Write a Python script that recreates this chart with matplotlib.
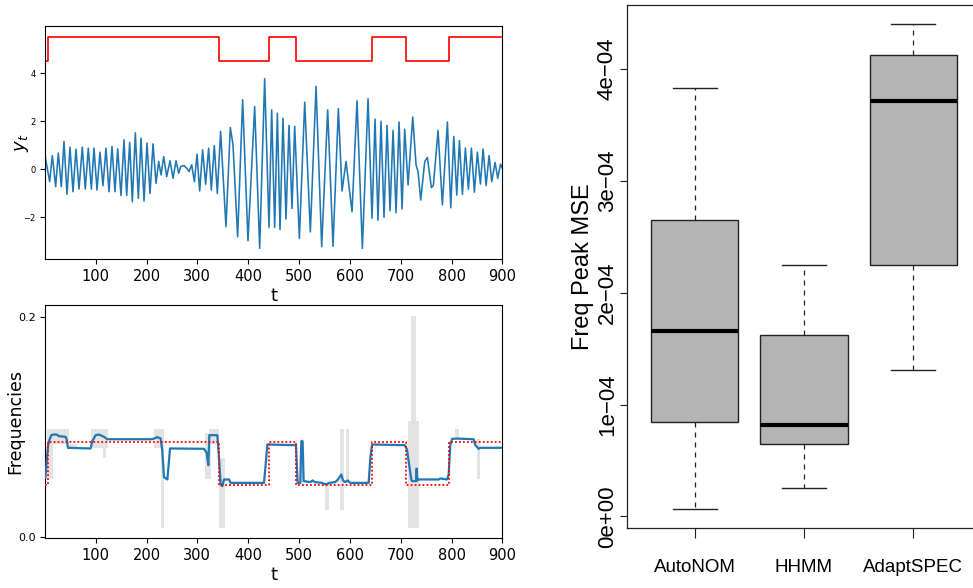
import matplotlib
matplotlib.use("Agg")
import matplotlib.pyplot as plt
from matplotlib import font_manager

# ---------------- data: top panel (simulated series y_t, read extrema) ----------------
sig_t = [1, 9.5, 14.7, 21.3, 26.5, 32.4, 37.7, 43.6, 49.5, 55.4, 61.3, 67.2, 73.7, 79.6,
         85.5, 91.5, 96.7, 102.6, 108.5, 114.4, 120.3, 126.2, 132.1, 138.0, 143.3, 149.8,
         155.7, 161.0, 166.9, 172.1, 178.0, 183.9, 189.2, 195.1, 201.0, 206.9, 212.8, 218.7,
         224.0, 228.6, 233.8, 239.7, 246.3, 252.2, 258.1, 263.3, 267.3, 273.8, 279.0, 283.7,
         288.9, 294.2, 299.4, 304.6,
         310.4, 316.3, 322.2, 327.5, 333.4, 339.3, 345.8, 356.3, 364.9, 370.1, 379.3, 389.1,
         399.6, 412.8, 422.6, 432.4, 441.0, 446.2, 452.1, 457.4, 462.6, 468.5, 474.4, 480.3,
         486.2, 491.5, 500.7, 511.2, 522.3, 533.5, 544.6, 556.4, 566.9, 577.4, 584.6, 592.5,
         604.3, 614.1, 624.6, 635.8, 643.6, 649.5, 655.4, 661.3, 667.2, 673.2, 679.1, 685.0,
         690.9, 696.8, 702.7, 707.9, 714.5, 723.7, 730.2, 734.2, 739.4, 747.3, 752.5, 760.4,
         764.3, 773.5, 782.0, 791.9, 798.5, 804.4, 810.3, 815.5, 821.4, 827.3, 833.2, 839.1,
         845.0, 850.9, 856.8, 862.1, 868.0, 873.9, 879.1, 885.7, 890.9, 896.2, 900]
sig_y = [0.49, -0.52, 0.57, -0.73, 0.67, -0.73, 1.16, -1.05, 0.92, -0.94, 0.84, -0.83, 0.92, -0.83,
         0.88, -0.83, 0.88, -0.87, 0.71, -0.69, 0.88, -0.94, 0.95, -0.94, 0.85, -1.10,
         1.23, -1.10, 1.12, -1.36, 1.52, -1.22, 1.30, -1.33, 1.09, -1.01, 1.06, -0.59,
         0.32, -0.24, 0.53, -0.31, 0.35, -0.38, 0.35, -0.17, 0.11, 0.15, 0.04, -0.10,
         0.18, -0.52, 0.63, -0.91,
         0.81, -0.63, 0.88, -0.87, 0.98, -1.01, 1.58, -2.40, 1.74, 1.02, -2.83, 2.90,
         -2.99, 2.62, -3.31, 3.78, -2.43, 2.48, -2.43, 2.34, -2.52, 2.13, -2.08, 1.83,
         -1.64, 1.79, -2.89, 2.80, -2.62, 3.46, -3.24, 2.48, -3.22, 2.53, -0.91, 0.32,
         -1.78, 2.86, -3.31, 2.94, -2.05, 2.09, -2.13, 2.00, -2.01, 1.83, -1.74, 1.62,
         -1.82, 1.97, -1.66, 1.67, -0.66, 2.18, 0.18, -0.10, -1.29, 0.32, 0.49, -0.77,
         -0.68, 1.62, -1.49, 1.97, -1.61, 1.37, -1.08, 1.19, -1.05, 0.88, -0.84, 0.88,
         -0.96, 0.71, -0.62, 0.84, -0.68, 0.57, -0.52, 0.28, -0.38, 0.21, 0.04]

# regime change points and states (0 = low, 1 = high)
change_t = [1, 7, 343, 440, 495, 643, 710, 795, 900]
states = [0, 1, 0, 1, 0, 1, 0, 1]
state_level_top = [4.54, 5.54]          # red indicator in top panel
true_freq = [0.0467, 0.0866]            # true peak frequency per state

# ---------------- data: bottom panel (estimated frequency + band) ----------------
est_t = [1, 6.2, 8.1, 12.7, 16.7, 23.2, 27.8, 40.9, 42.9, 45.5, 90.1, 93.4, 100, 106.5, 116.3,
         122.9, 211.4, 221.3, 227.8, 231.1, 234.4, 241, 244.2, 246.2, 313.1, 318.3, 321.6,
         323.6, 339.3, 342.6, 345.9, 349.2, 352.4, 362.3, 365.5, 431.1, 434.4, 437.7, 494,
         497.3, 502.5, 504.5, 507.1, 509.1, 522.2, 526.8, 530.7, 545.2, 553, 559.6, 571.4,
         576.7, 583.2, 586.5, 591.1, 595.7, 600.9, 637, 640.3, 643.5, 646.8, 707.8, 712.4,
         717, 720.9, 722.2, 730.1, 731.4, 732.7, 735.4, 774.7, 778, 791.1, 794.4, 797.7,
         800.9, 810.8, 843.6, 846.8, 853.4, 856.7, 900]
est_f = [0.0536, 0.0824, 0.0870, 0.0924, 0.0930, 0.0930, 0.0915, 0.0909, 0.0887, 0.0809, 0.0803,
         0.0870, 0.0924, 0.0930, 0.0909, 0.0887, 0.0887, 0.0906, 0.0894, 0.0779, 0.0542, 0.0521,
         0.0688, 0.0803, 0.0800, 0.0763, 0.0651, 0.0924, 0.0924, 0.0718, 0.0475, 0.0460, 0.0521,
         0.0521, 0.0490, 0.0490, 0.0657, 0.0839, 0.0833, 0.0490, 0.0490, 0.0869, 0.0869, 0.0506,
         0.0497, 0.0512, 0.0497, 0.0490, 0.0475, 0.0490, 0.0497, 0.0521, 0.0566, 0.0512, 0.0497,
         0.0512, 0.0490, 0.0490, 0.0718, 0.0833, 0.0839, 0.0833, 0.0794, 0.0642, 0.0521, 0.0506,
         0.0506, 0.0620, 0.0512, 0.0521, 0.0521, 0.0530, 0.0521, 0.0566, 0.0839, 0.0890, 0.0893,
         0.0887, 0.0833, 0.0800, 0.0809, 0.0809]

# credible band pieces: start, end, lower, upper
band_t0 = [3.5, 16.7, 47.5, 90.1, 115.0, 214.7, 227.8, 315.7, 322.9, 342.0, 503.2, 551.7,
           581.2, 592.4, 715.0, 720.5, 806.2, 850.1]
band_t1 = [16.7, 47.5, 63.9, 124.0, 119.6, 234.4, 234.4, 326.2, 342.6, 354.0, 508.4, 559.6,
           587.8, 597.6, 736.0, 730.0, 815.4, 856.7]
band_lo = [0.0521, 0.0845, 0.0818, 0.0809, 0.0718, 0.0809, 0.0082, 0.0521, 0.0845, 0.0082,
           0.0475, 0.0239, 0.0239, 0.0490, 0.0082, 0.0082, 0.0890, 0.0521]
band_hi = [0.0983, 0.0983, 0.0845, 0.0983, 0.0809, 0.0983, 0.0809, 0.0945, 0.0983, 0.0718,
           0.0885, 0.0490, 0.0983, 0.0983, 0.1050, 0.2012, 0.0983, 0.0885]

# ---------------- data: right panel (boxplots) ----------------
methods = ["AutoNOM", "HHMM", "AdaptSPEC"]
whisk_lo = [0.067e-4, 0.25e-4, 1.31e-4]
q1 = [0.84e-4, 0.65e-4, 2.25e-4]
median = [1.66e-4, 0.82e-4, 3.71e-4]
q3 = [2.65e-4, 1.62e-4, 4.12e-4]
whisk_hi = [3.83e-4, 2.25e-4, 4.40e-4]
ytick_vals = [0, 1e-4, 2e-4, 3e-4, 4e-4]
ytick_labels = ["0e+00", "1e\u221204", "2e\u221204", "3e\u221204", "4e\u221204"]
xtick_vals = [100, 200, 300, 400, 500, 600, 700, 800, 900]

# ---------------- figure ----------------
fig = plt.figure(figsize=(9.73, 5.88), dpi=100)
fig.patch.set_facecolor("white")

blue = "#1f77b4"

# top panel
ax1 = fig.add_axes([0.0466, 0.5595, 0.4697, 0.3963])
ax1.plot(sig_t, sig_y, color=blue, lw=1.15)
top_levels = [state_level_top[s] for s in states] + [state_level_top[states[-1]]]
ax1.step(change_t, top_levels, where="post", color="red", lw=1.2)
ax1.set_xlim(1, 900)
ax1.set_xticks(xtick_vals)
ax1.set_yticks([-2, 0, 2, 4])
ax1.tick_params(axis="x", labelsize=10.5)
ax1.tick_params(axis="y", labelsize=6)
ax1.set_xlabel("t", fontsize=13, labelpad=2)
ax1.set_ylabel("$y_t$", fontsize=13, va="center")
ax1.yaxis.set_label_coords(-0.051, 0.5)

# bottom panel
ax2 = fig.add_axes([0.0466, 0.0845, 0.4697, 0.3968])
for a, b, lo, hi in zip(band_t0, band_t1, band_lo, band_hi):
    ax2.fill_between([a, b], [lo, lo], [hi, hi], color="#e3e3e3", lw=0, zorder=1)
ax2.plot(est_t, est_f, color=blue, lw=1.6, zorder=3)
freq_levels = [true_freq[s] for s in states] + [true_freq[states[-1]]]
ax2.step(change_t, freq_levels, where="post", color="red", lw=1.3,
         linestyle=(0, (1, 1.2)), zorder=4)
ax2.set_xlim(1, 900)
ax2.set_xticks(xtick_vals)
ax2.set_yticks([0.0, 0.2])
ax2.set_yticklabels(["0.0", "0.2"])
ax2.tick_params(axis="x", labelsize=10.5)
ax2.tick_params(axis="y", labelsize=8)
ax2.set_xlabel("t", fontsize=13, labelpad=2)
ax2.set_ylabel("Frequencies", fontsize=12.5, va="center")
ax2.yaxis.set_label_coords(-0.066, 0.5)

# right panel (R-style boxplot)
names = {f.name for f in font_manager.fontManager.ttflist}
rfont = "Liberation Sans" if "Liberation Sans" in names else "DejaVu Sans"

ax3 = fig.add_axes([0.6444, 0.102, 0.3638, 0.8903])
stats = []
for n, lo, a, m, b, hi in zip(methods, whisk_lo, q1, median, q3, whisk_hi):
    stats.append(dict(label=n, whislo=lo, q1=a, med=m, q3=b, whishi=hi, fliers=[]))
ax3.bxp(stats, positions=[1, 2, 3], widths=0.8, capwidths=0.4, patch_artist=True,
        showfliers=False,
        boxprops=dict(facecolor="#b4b4b4", edgecolor="#222222", linewidth=1.0),
        medianprops=dict(color="black", linewidth=3.0, solid_capstyle="butt"),
        whiskerprops=dict(color="#222222", linewidth=0.9, linestyle=(0, (4, 4))),
        capprops=dict(color="#222222", linewidth=1.0))
ax3.set_xlim(0.38, 3.62)
ax3.set_ylim(-0.104e-4, 4.575e-4)
ax3.set_yticks(ytick_vals)
ax3.set_yticklabels(ytick_labels, rotation=90, va="center", family=rfont, fontsize=16)
ax3.set_xticks([1, 2, 3])
ax3.set_xticklabels(methods, family=rfont, fontsize=13.5)
ax3.tick_params(axis="y", length=5, width=0.8, pad=1.5, colors="#222222", labelcolor="black")
ax3.tick_params(axis="x", length=7, width=0.8, pad=15, colors="#222222", labelcolor="black")
for sp in ax3.spines.values():
    sp.set_linewidth(0.9)
    sp.set_color("#222222")
ax3.set_ylabel("Freq Peak MSE", family=rfont, fontsize=17, va="center")
ax3.yaxis.set_label_coords(-0.124, 0.5)

fig.savefig("out.png", dpi=100)
